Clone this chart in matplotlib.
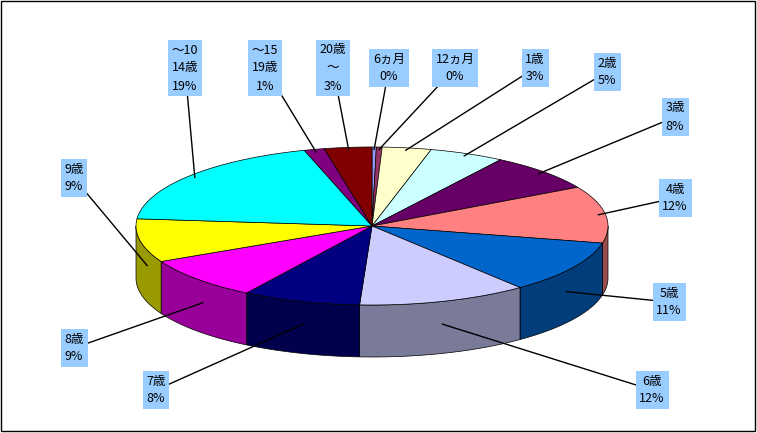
import matplotlib
matplotlib.use("Agg")
import matplotlib.pyplot as plt
import matplotlib.colors as mcolors
import numpy as np

plt.rcParams['font.family'] = ['Noto Sans CJK JP', 'DejaVu Sans']

# data (clockwise from 12 o'clock)
labels = ["6ヵ月\n0%", "12ヵ月\n0%", "1歳\n3%", "2歳\n5%", "3歳\n8%", "4歳\n12%",
          "5歳\n11%", "6歳\n12%", "7歳\n8%", "8歳\n9%", "9歳\n9%",
          "～10\n14歳\n19%", "～15\n19歳\n1%", "20歳\n～\n3%"]
values = [0.3, 0.4, 3.4, 5.2, 7.8, 11.8, 10.9, 11.8, 8.2, 8.8, 9.0, 19.2, 1.4, 3.3]
colors = ["#9999FF", "#993366", "#FFFFCC", "#CCFFFF", "#660066", "#FF8080",
          "#0066CC", "#CCCCFF", "#000080", "#FF00FF", "#FFFF00", "#00FFFF",
          "#800080", "#800000"]
# label box centres
label_pos = [(389, 68), (455, 68), (535, 68), (607, 72), (675, 117), (675, 198),
             (669, 302), (652, 390), (156, 390), (74, 348), (74, 178),
             (185, 68), (265, 68), (333, 68)]

W, H = 757, 433
fig = plt.figure(figsize=(W / 100, H / 100), dpi=100)
ax = fig.add_axes([0, 0, 1, 1])
ax.set_xlim(0, W)
ax.set_ylim(H, 0)
ax.axis("off")
ax.add_patch(plt.Rectangle((1, 1), W - 3, H - 3, fill=False, ec="black", lw=1))

cx, cy, a, b, depth = 372, 226, 236, 79, 52


def pt(t):
    return cx + a * np.cos(t), cy - b * np.sin(t)


total = sum(values)
starts, ends = [], []
t = np.pi / 2
for v in values:
    starts.append(t)
    t -= 2 * np.pi * v / total
    ends.append(t)

# side walls (front half only: sin(t) < 0)
for s, e, c in zip(starts, ends, colors):
    ts = np.linspace(s, e, 200)
    ts = ts[np.sin(ts) < 0]
    if len(ts) < 2:
        continue
    x, y = pt(ts)
    side = np.array(mcolors.to_rgb(c)) * 0.6
    ax.fill(np.r_[x, x[::-1]], np.r_[y, y[::-1] + depth], color=side,
            ec="black", lw=0.5, zorder=2)

# top faces
for s, e, c in zip(starts, ends, colors):
    ts = np.linspace(s, e, 100)
    x, y = pt(ts)
    ax.fill(np.r_[cx, x], np.r_[cy, y], color=c, ec="black", lw=0.5, zorder=3)

# labels with leader lines
for s, e, lab, (lx, ly) in zip(starts, ends, labels, label_pos):
    m = (s + e) / 2
    px, py = pt(m)
    if np.sin(m) < 0:
        py += depth * 0.5
    px = cx + (px - cx) * 0.97
    py = cy + (py - cy) * 0.97
    ax.plot([px, lx], [py, ly], color="black", lw=1, zorder=4)
    ax.text(lx, ly, lab, ha="center", va="center", fontsize=9, linespacing=1.5,
            zorder=5, bbox=dict(boxstyle="square,pad=0.3", fc="#99CCFF", ec="none"))

fig.savefig("out.png", dpi=100)
